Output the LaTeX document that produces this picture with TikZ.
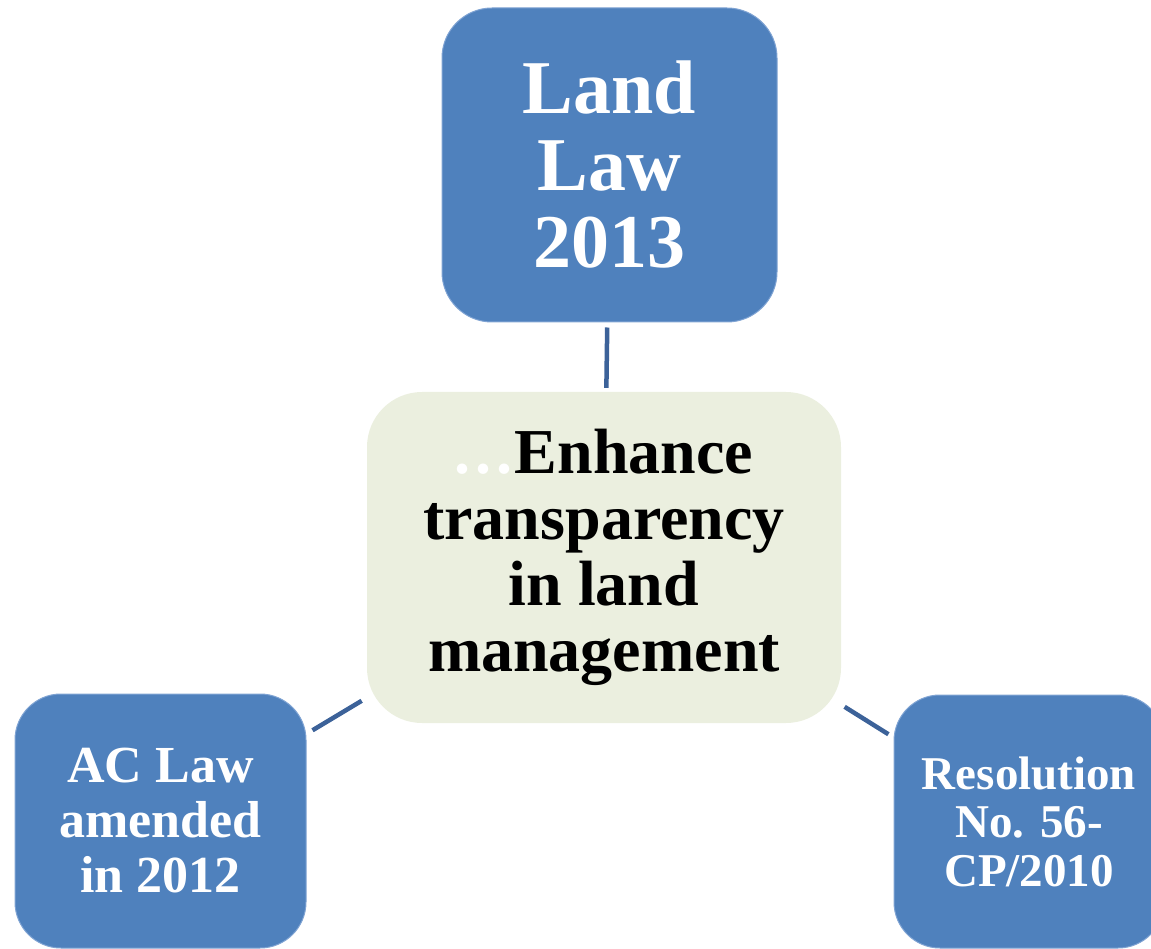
\documentclass[tikz,border=0pt]{standalone}
\usepackage{fontspec}
\setmainfont{Liberation Serif}
\definecolor{boxblue}{HTML}{4F81BD}
\definecolor{boxedge}{HTML}{7FA3D3}
\definecolor{centerfill}{HTML}{EBEFDF}
\definecolor{linkblue}{HTML}{3C6299}
\tikzset{
  bluebox/.style={rectangle, rounded corners=46pt, fill=boxblue, draw=boxedge, line width=1pt,
    text=white, align=center, inner sep=0pt, font=\bfseries},
  centerbox/.style={rectangle, rounded corners=55pt, fill=centerfill, draw=none,
    text=black, align=center, inner sep=0pt, font=\bfseries},
  link/.style={draw=linkblue, line width=4.5pt}
}
\begin{document}
\begin{tikzpicture}[x=1pt,y=-1pt]
\useasboundingbox (0,0) rectangle (1151,949);
\clip (0,0) rectangle (1151,949);
\node[bluebox, rounded corners=50pt, minimum width=335pt, minimum height=314pt,
  font=\bfseries\fontsize{76}{77}\selectfont] (top) at (609.5,165) {Land\\Law\\2013};
\node[centerbox, minimum width=474pt, minimum height=331pt,
  font=\bfseries\fontsize{64}{66}\selectfont] (center) at (604,557.5)
  {{\color{white}.\kern5pt.\kern5pt.\kern2pt}Enhance\\transparency\\in land\\management};
\node[bluebox, minimum width=291pt, minimum height=254pt,
  font=\bfseries\fontsize{52}{55}\selectfont] (left) at (160.5,821) {AC Law\\amended\\in 2012};
\node[bluebox, minimum width=270pt, minimum height=253pt,
  font=\bfseries\fontsize{47}{48.5}\selectfont] (right) at (1029,821.5) {Resolution\\No. 56-\\CP/2010};
\draw[link, shorten >=4pt, shorten <=5pt] (top) -- (center);
\draw[link, shorten >=6pt, shorten <=7pt] (left) -- (center);
\draw[link, shorten >=6pt, shorten <=4pt] (center) -- (right);
\end{tikzpicture}
\end{document}
